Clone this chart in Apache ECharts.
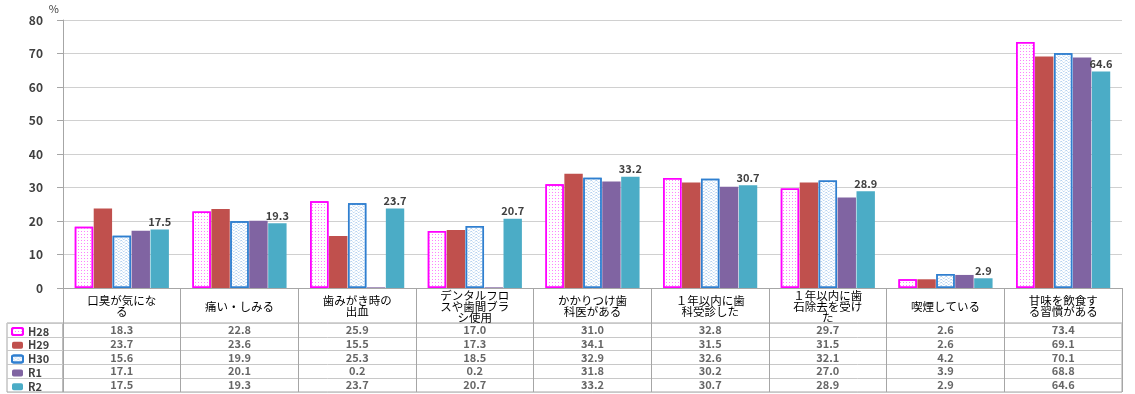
<!DOCTYPE html>
<html>
<head>
<meta charset="utf-8">
<script src="https://cdn.jsdelivr.net/npm/echarts@6/dist/echarts.min.js"></script>
<style>
  html, body { margin: 0; padding: 0; background: #fff; }
  #chart { width: 1135px; height: 394px; }
</style>
</head>
<body>
<div id="chart"></div>
<script>
// 項目
const categories = [
  "口臭が気になる", "痛い・しみる", "歯みがき時の出血", "デンタルフロスや歯間ブラシ使用",
  "かかりつけ歯科医がある", "１年以内に歯科受診した", "１年以内に歯石除去を受けた",
  "喫煙している", "甘味を飲食する習慣がある"
];
const seriesNames = ["H28", "H29", "H30", "R1", "R2"];
// 年度ごとの値(%)
const h28 = [18.3, 22.8, 25.9, 17.0, 31.0, 32.8, 29.7, 2.6, 73.4];
const h29 = [23.7, 23.6, 15.5, 17.3, 34.1, 31.5, 31.5, 2.6, 69.1];
const h30 = [15.6, 19.9, 25.3, 18.5, 32.9, 32.6, 32.1, 4.2, 70.1];
const r1  = [17.1, 20.1, 0.2, 0.2, 31.8, 30.2, 27.0, 3.9, 68.8];
const r2  = [17.5, 19.3, 23.7, 20.7, 33.2, 30.7, 28.9, 2.9, 64.6];
const yMin = 0, yMax = 80, yStep = 10;

const values = [h28, h29, h30, r1, r2];
const LINE = "#a6a6a6";
const TXT = "#404040";

// 棒の見た目
const styles = [
  { color: "#fff", borderColor: "#ff00ff", borderWidth: 1.5,
    decal: { symbol: "rect", symbolSize: 1, color: "#ff7fff", dashArrayX: [1, 2], dashArrayY: [1, 2] } },
  { color: "#c0504d" },
  { color: "#fff", borderColor: "#2f7fd0", borderWidth: 1.5,
    decal: { symbol: "path://M0 3 C2 0 4 0 6 3 C8 6 10 6 12 3 L12 4.4 C10 7.4 8 7.4 6 4.4 C4 1.4 2 1.4 0 4.4 Z",
             symbolSize: 1, symbolKeepAspect: false, color: "#9cc2ea", dashArrayX: [5, 0], dashArrayY: [3, 0] } },
  { color: "#8064a2" },
  { color: "#4bacc6" }
];

const barSeries = seriesNames.map((name, s) => ({
  name: name,
  type: "bar",
  xAxisIndex: 0,
  yAxisIndex: 0,
  data: values[s],
  barGap: "3%",
  barCategoryGap: "20%",
  itemStyle: styles[s],
  label: s === 4 ? {
    show: true, position: "top", distance: 2,
    fontSize: 11, fontWeight: "bold", color: TXT,
    formatter: p => p.value.toFixed(1)
  } : { show: false }
}));

// 表のセル
const cellData = [];
values.forEach((arr, s) => arr.forEach((v, i) => cellData.push([i, s, v])));

const chart = echarts.init(document.getElementById("chart"));
chart.setOption({
  animation: false,
  textStyle: { fontFamily: "'Noto Sans CJK JP', 'Noto Sans', sans-serif" },
  grid: [
    { left: 63, right: 13, top: 20, bottom: 106 },
    { left: 63, right: 13, top: 323, height: 69, show: true, borderColor: LINE, borderWidth: 1 },
    { left: 7, width: 56, top: 323, height: 69, show: true, borderColor: LINE, borderWidth: 1 }
  ],
  legend: {
    data: seriesNames,
    orient: "vertical",
    left: 11, top: 326,
    padding: 0,
    itemWidth: 11, itemHeight: 7, itemGap: 2.8,
    textStyle: { fontSize: 11, fontWeight: "bold", color: TXT, lineHeight: 11 }
  },
  xAxis: [
    {
      type: "category", gridIndex: 0, data: categories,
      axisLine: { lineStyle: { color: LINE } },
      axisTick: { show: true, interval: 0, length: 35, lineStyle: { color: LINE } },
      axisLabel: {
        interval: 0, width: 70, overflow: "break",
        fontSize: 11.5, lineHeight: 11, color: "#000",
        verticalAlign: "middle", margin: 18.5
      }
    },
    {
      type: "category", gridIndex: 1, data: categories,
      axisLine: { show: false }, axisTick: { show: false }, axisLabel: { show: false },
      splitLine: { show: true, interval: 0, lineStyle: { color: LINE } }
    },
    { type: "value", gridIndex: 2, show: false }
  ],
  yAxis: [
    {
      type: "value", gridIndex: 0, min: yMin, max: yMax, interval: yStep,
      name: "%", nameLocation: "end", nameGap: 4,
      nameTextStyle: { align: "right", fontSize: 11, color: TXT, padding: [0, 4, 0, 0] },
      axisLine: { show: true, lineStyle: { color: LINE } },
      axisTick: { show: true, length: 6, lineStyle: { color: LINE } },
      axisLabel: { fontSize: 12, fontWeight: "bold", color: TXT, margin: 20 },
      splitLine: { lineStyle: { color: "#d0d0d0", width: 1.2 } }
    },
    {
      type: "category", gridIndex: 1, data: seriesNames, inverse: true,
      axisLine: { show: false }, axisTick: { show: false }, axisLabel: { show: false },
      splitLine: { show: true, interval: 0, lineStyle: { color: "#c8c8c8" } }
    },
    {
      type: "category", gridIndex: 2, data: seriesNames, inverse: true,
      axisLine: { show: false }, axisTick: { show: false }, axisLabel: { show: false },
      splitLine: { show: true, interval: 0, lineStyle: { color: "#c8c8c8" } }
    }
  ],
  series: barSeries.concat([{
    name: "table",
    type: "scatter",
    xAxisIndex: 1, yAxisIndex: 1,
    data: cellData,
    symbolSize: 1,
    silent: true,
    itemStyle: { color: "transparent" },
    label: {
      show: true, position: "inside",
      fontSize: 11, fontWeight: "bold", color: TXT,
      formatter: p => p.value[2].toFixed(1)
    }
  }])
});
</script>
</body>
</html>
